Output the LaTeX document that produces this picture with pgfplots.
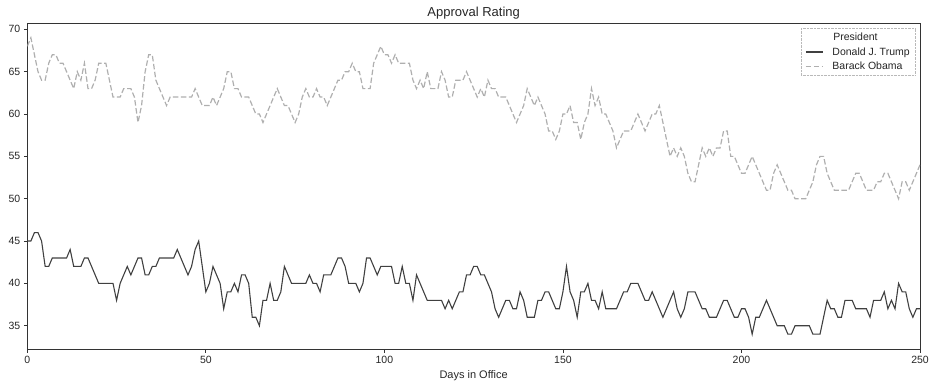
\documentclass[border=0pt]{standalone}
\usepackage{pgfplots}
\usepackage{pgfplotstable}
\pgfplotsset{compat=1.18}
\usepackage{fontspec}
\setmainfont{Liberation Sans}
\definecolor{trumpc}{RGB}{64,64,64}
\definecolor{obamac}{RGB}{175,175,175}
\definecolor{txt}{RGB}{38,38,38}
\definecolor{axc}{RGB}{51,51,51}
\pgfplotstableread{
day trump obama
0 45 68
1 45 69
2 46 67
3 46 65
4 45 64
5 42 64
6 42 66
7 43 67
8 43 67
9 43 66
10 43 66
11 43 65
12 44 64
13 42 63
14 42 65
15 42 64
16 43 66
17 43 63
18 42 63
19 41 64
20 40 66
21 40 66
22 40 66
23 40 64
24 40 62
25 38 62
26 40 62
27 41 63
28 42 63
29 41 63
30 42 62
31 43 59
32 43 61
33 41 65
34 41 67
35 42 67
36 42 64
37 43 63
38 43 62
39 43 61
40 43 62
41 43 62
42 44 62
43 43 62
44 42 62
45 41 62
46 42 62
47 44 63
48 45 62
49 42 61
50 39 61
51 40 61
52 42 62
53 41 61
54 40 62
55 37 63
56 39 65
57 39 65
58 40 63
59 39 63
60 41 62
61 41 62
62 40 62
63 36 61
64 36 60
65 35 60
66 38 59
67 38 60
68 40 61
69 38 62
70 38 63
71 39 62
72 42 61
73 41 61
74 40 60
75 40 59
76 40 60
77 40 62
78 40 63
79 41 62
80 40 62
81 40 63
82 39 62
83 41 62
84 41 61
85 41 62
86 42 63
87 43 64
88 43 64
89 42 65
90 40 65
91 40 66
92 40 65
93 39 65
94 40 63
95 43 63
96 43 63
97 42 66
98 41 67
99 42 68
100 42 67
101 42 67
102 42 66
103 40 67
104 40 66
105 42 66
106 40 66
107 40 66
108 38 64
109 41 63
110 40 64
111 39 63
112 38 65
113 38 63
114 38 63
115 38 63
116 38 65
117 37 64
118 38 62
119 37 62
120 38 64
121 39 64
122 39 64
123 41 65
124 41 64
125 42 63
126 42 62
127 41 63
128 41 62
129 40 64
130 39 63
131 37 63
132 36 62
133 37 62
134 38 62
135 38 61
136 37 60
137 37 59
138 39 60
139 38 61
140 36 63
141 36 62
142 36 61
143 38 62
144 38 61
145 39 60
146 39 58
147 38 58
148 37 57
149 37 58
150 39 60
151 42 60
152 39 61
153 38 59
154 36 59
155 39 57
156 39 59
157 40 60
158 38 63
159 38 61
160 37 62
161 39 60
162 37 60
163 37 59
164 37 58
165 37 56
166 38 57
167 39 58
168 39 58
169 40 58
170 40 59
171 40 60
172 39 59
173 38 58
174 38 59
175 39 60
176 38 60
177 37 61
178 36 59
179 37 57
180 38 55
181 39 56
182 37 55
183 36 56
184 37 55
185 39 53
186 39 52
187 39 52
188 38 54
189 37 56
190 37 55
191 36 56
192 36 55
193 36 56
194 37 56
195 38 58
196 38 58
197 37 55
198 36 55
199 36 54
200 37 53
201 37 53
202 36 54
203 34 55
204 36 54
205 36 53
206 37 52
207 38 51
208 37 51
209 36 53
210 35 54
211 35 53
212 35 52
213 34 51
214 34 51
215 35 50
216 35 50
217 35 50
218 35 50
219 35 51
220 34 52
221 34 54
222 34 55
223 36 55
224 38 53
225 37 52
226 37 51
227 36 51
228 36 51
229 38 51
230 38 51
231 38 52
232 37 53
233 37 53
234 37 52
235 37 51
236 36 51
237 38 51
238 38 52
239 38 52
240 39 53
241 37 53
242 38 52
243 37 51
244 40 50
245 39 52
246 39 52
247 37 51
248 36 52
249 37 53
250 37 54
}\approval
\begin{document}
\begin{tikzpicture}
\begin{axis}[
  name=ax,
  width=892.7pt, height=326pt, scale only axis,
  xmin=0, xmax=250, ymin=32.25, ymax=70.75,
  xtick={0,50,100,150,200,250},
  ytick={35,40,45,50,55,60,65,70},
  tick align=outside, tick pos=left,
  major tick length=3.5pt,
  every tick/.style={axc, line width=0.8pt},
  axis line style={axc, line width=0.8pt},
  /pgf/number format/assume math mode=true,
  tick label style={font=\fontsize{10.5}{12}\selectfont, text=txt},
  every axis title shift=0pt,
  title={Approval Rating},
  title style={at={(axis description cs:0.5,1)}, anchor=base, yshift=6.5pt, font=\fontsize{13}{15}\selectfont, text=txt},
  xlabel={Days in Office},
  xlabel style={at={(axis description cs:0.5,0)}, anchor=base, yshift=-29pt, font=\fontsize{11}{13}\selectfont, text=txt},
  legend style={at={(1,1)}, anchor=north east, xshift=-4pt, yshift=-5pt,
    draw=gray!55, dash pattern=on 0.6pt off 0.8pt, line width=0.6pt,
    font=\fontsize{10.5}{12}\selectfont, text=txt, row sep=1.5pt, column sep=7pt,
    inner xsep=4pt, inner ysep=2.5pt},
  legend cell align=left,
]
\addlegendimage{empty legend}
\addlegendentry{\hspace*{-16pt}\makebox[78pt][c]{President}}
\addplot[trumpc, line width=1.1pt, solid] table[x=day, y=trump] {\approval};
\addlegendentry{Donald J. Trump}
\addplot[obamac, line width=1.2pt, dash pattern=on 5.5pt off 2.5pt] table[x=day, y=obama] {\approval};
\addlegendentry{Barack Obama}
\end{axis}
\pgfresetboundingbox
\path (ax.south west) ++(-27.3pt,-38pt) rectangle ([xshift=16pt,yshift=23pt]ax.north east);
\end{tikzpicture}
\end{document}
